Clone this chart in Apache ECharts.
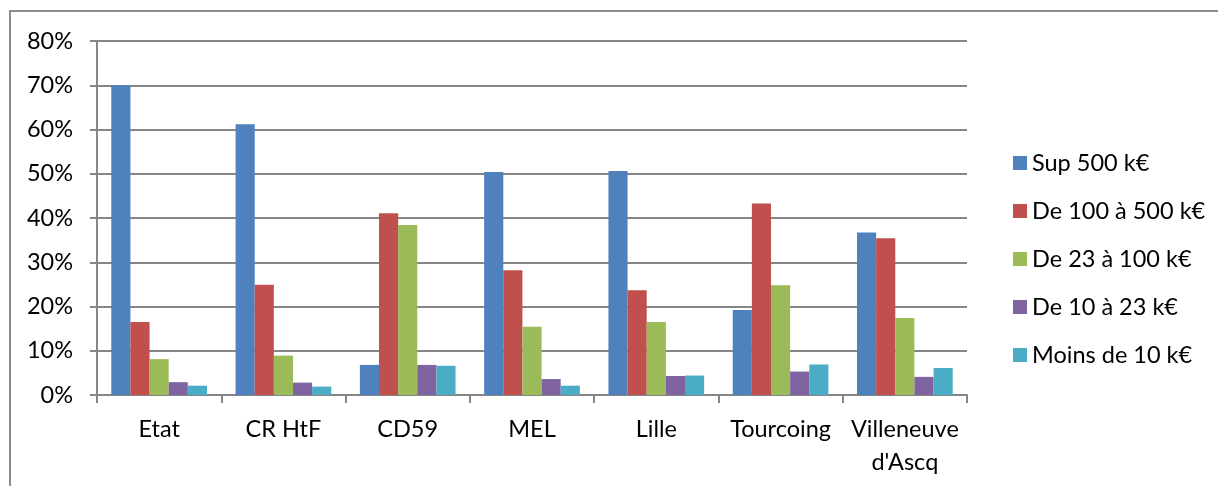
<!DOCTYPE html>
<html>
<head>
<meta charset="utf-8">
<script src="https://cdn.jsdelivr.net/npm/echarts@6/dist/echarts.min.js"></script>
<style>html,body{margin:0;padding:0;background:#fff}#c{width:1218px;height:486px}</style>
</head>
<body>
<div id="c"></div>
<script>
const categories = ['Etat', 'CR HtF', 'CD59', 'MEL', 'Lille', 'Tourcoing', "Villeneuve\nd'Ascq"];
const seriesNames = ['Sup 500 k€', 'De 100 à 500 k€', 'De 23 à 100 k€', 'De 10 à 23 k€', 'Moins de 10 k€'];
const sup500 =   [70.0, 61.2, 6.8, 50.4, 50.6, 19.2, 36.7];
const de100 =    [16.5, 24.9, 41.1, 28.2, 23.7, 43.3, 35.4];
const de23 =     [8.1, 8.9, 38.4, 15.4, 16.5, 24.8, 17.4];
const de10 =     [2.9, 2.8, 6.8, 3.6, 4.3, 5.3, 4.1];
const moins10 =  [2.1, 1.9, 6.6, 2.1, 4.4, 6.9, 6.1];
const yTicks = [0, 10, 20, 30, 40, 50, 60, 70, 80];
const colors = ['#4f81bd', '#c0504d', '#9bbb59', '#8064a2', '#4bacc6'];
const values = [sup500, de100, de23, de10, moins10];

const FONT = 'Lato';
const FS = 23.5;
const chart = echarts.init(document.getElementById('c'), null, {renderer: 'canvas'});
chart.setOption({
  animation: false,
  textStyle: {fontFamily: FONT},
  graphic: [{
    type: 'rect', shape: {x: 10, y: 11, width: 1400, height: 600},
    style: {fill: 'none', stroke: '#8c8c8c', lineWidth: 2}, silent: true, z: -1
  }],
  grid: {left: 97, right: 251, top: 41, bottom: 91, containLabel: false},
  legend: {
    orient: 'vertical', left: 1008, top: 146, itemGap: 24, itemWidth: 14, itemHeight: 14,
    icon: 'rect', textStyle: {fontFamily: FONT, fontSize: FS, lineHeight: 24, color: '#000'},
    data: seriesNames
  },
  xAxis: {
    type: 'category', data: categories,
    axisLine: {lineStyle: {color: '#868686', width: 2}},
    axisTick: {show: true, length: 8, lineStyle: {color: '#868686', width: 2}},
    axisLabel: {fontFamily: FONT, fontSize: FS, color: '#000', margin: 18, lineHeight: 33, interval: 0}
  },
  yAxis: {
    type: 'value', min: yTicks[0], max: yTicks[yTicks.length - 1], interval: 10,
    axisLine: {show: true, lineStyle: {color: '#868686', width: 2}},
    axisTick: {show: true, length: 7, lineStyle: {color: '#868686', width: 2}},
    splitLine: {lineStyle: {color: '#868686', width: 2}},
    axisLabel: {fontFamily: FONT, fontSize: FS, color: '#000', margin: 24, formatter: v => v + '%'}
  },
  series: seriesNames.map((n, i) => ({
    name: n, type: 'bar', data: values[i], barGap: '0%', barCategoryGap: '23%',
    itemStyle: {color: colors[i]}
  }))
});
</script>
</body>
</html>
